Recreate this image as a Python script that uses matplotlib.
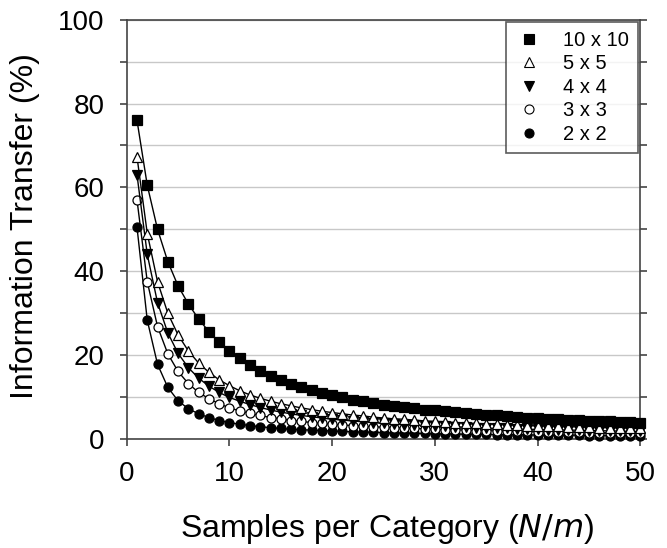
#Information transfer versus samples per category, one curve per table size

#importing all libraries which will be used.
import numpy as np
import matplotlib.pyplot as plt
from matplotlib.lines import Line2D

plt.rcParams['font.family'] = ['Liberation Sans', 'DejaVu Sans']

#samples per category (N/m)
samples = list(range(1, 51))

#values, in percent
it_10x10 = [76.0, 60.5, 50.0, 42.3, 36.5, 32.2, 28.6, 25.6, 23.1, 21.0,
            19.2, 17.7, 16.3, 15.1, 14.1, 13.2, 12.4, 11.7, 11.0, 10.4,
            9.9, 9.4, 9.0, 8.6, 8.2, 7.9, 7.6, 7.3, 7.0, 6.8,
            6.6, 6.4, 6.2, 6.0, 5.8, 5.6, 5.5, 5.3, 5.1, 4.9,
            4.8, 4.7, 4.6, 4.5, 4.4, 4.3, 4.2, 4.1, 4.0, 3.9]
it_5x5 = [67.3, 49.0, 37.5, 30.0, 24.8, 21.0, 18.1, 15.9, 14.1, 12.7,
          11.5, 10.5, 9.7, 9.0, 8.4, 7.9, 7.4, 7.0, 6.6, 6.3,
          6.0, 5.7, 5.5, 5.2, 5.0, 4.8, 4.7, 4.5, 4.3, 4.2,
          4.1, 3.9, 3.8, 3.7, 3.6, 3.5, 3.4, 3.3, 3.2, 3.1,
          3.1, 3.0, 2.9, 2.9, 2.8, 2.7, 2.7, 2.6, 2.6, 2.5]
it_4x4 = [63.0, 44.0, 32.5, 25.3, 20.4, 17.0, 14.5, 12.6, 11.1, 9.9,
          9.0, 8.2, 7.5, 6.9, 6.4, 6.0, 5.6, 5.3, 5.0, 4.7,
          4.5, 4.3, 4.1, 3.9, 3.7, 3.6, 3.4, 3.3, 3.2, 3.1,
          3.0, 2.9, 2.8, 2.7, 2.6, 2.5, 2.5, 2.4, 2.3, 2.3,
          2.2, 2.2, 2.1, 2.1, 2.0, 2.0, 1.9, 1.9, 1.8, 1.8]
it_3x3 = [57.0, 37.5, 26.8, 20.3, 16.1, 13.2, 11.1, 9.6, 8.4, 7.4,
          6.7, 6.1, 5.6, 5.1, 4.8, 4.4, 4.2, 3.9, 3.7, 3.5,
          3.3, 3.2, 3.0, 2.9, 2.8, 2.7, 2.6, 2.5, 2.4, 2.3,
          2.2, 2.2, 2.1, 2.0, 2.0, 1.9, 1.9, 1.8, 1.8, 1.7,
          1.7, 1.6, 1.6, 1.6, 1.5, 1.5, 1.5, 1.4, 1.4, 1.4]
it_2x2 = [50.5, 28.3, 17.8, 12.3, 9.1, 7.2, 6.0, 5.1, 4.4, 3.9,
          3.5, 3.2, 2.9, 2.7, 2.5, 2.3, 2.2, 2.1, 2.0, 1.9,
          1.8, 1.7, 1.6, 1.6, 1.5, 1.4, 1.4, 1.3, 1.3, 1.2,
          1.2, 1.2, 1.1, 1.1, 1.1, 1.0, 1.0, 1.0, 1.0, 0.9,
          0.9, 0.9, 0.9, 0.9, 0.8, 0.8, 0.8, 0.8, 0.8, 0.7]

labels = ["10 x 10", "5 x 5", "4 x 4", "3 x 3", "2 x 2"]
series = [it_10x10, it_5x5, it_4x4, it_3x3, it_2x2]
markers = ['s', '^', 'v', 'o', 'o']
faces = ['black', 'white', 'black', 'white', 'black']

fig = plt.figure(figsize=(6.67, 5.48), dpi=100)
ax = fig.add_axes([0.19, 0.199, 0.77, 0.765])

#draw from the lowest curve up so the upper ones sit on top
for vals, mk, fc in reversed(list(zip(series, markers, faces))):
    ax.plot(samples, vals, color='black', linewidth=1, marker=mk,
            markersize=6.5, markerfacecolor=fc, markeredgecolor='black',
            markeredgewidth=0.9, clip_on=False, zorder=3)

ax.set_xlim(0, 50)
ax.set_ylim(0, 100)
ax.set_xticks([0, 10, 20, 30, 40, 50])
ax.set_yticks([0, 20, 40, 60, 80, 100])
ax.set_yticks([10, 30, 50, 70, 90], minor=True)
ax.yaxis.grid(True, which='both', color='#c8c8c8', linewidth=1)
ax.set_axisbelow(True)

for side in ['left', 'bottom', 'top', 'right']:
    ax.spines[side].set_color('#444444')
    ax.spines[side].set_linewidth(1.2)

ax.tick_params(axis='both', which='major', direction='out', length=5,
               width=1.2, color='#444444', labelsize=20, pad=11)
ax.tick_params(axis='y', which='minor', direction='out', length=5,
               width=1.2, color='#444444')
ax.tick_params(axis='y', which='both', right=True, labelright=False)

ax.set_xlabel("Samples per Category ($\\it{N/m}$)", fontsize=23)
ax.set_ylabel("Information Transfer (%)", fontsize=23)
ax.xaxis.set_label_coords(0.507, -0.175)
ax.yaxis.set_label_coords(-0.168, 0.507)

handles = [Line2D([], [], linestyle='none', marker=mk, markersize=6.5,
                  markerfacecolor=fc, markeredgecolor='black', markeredgewidth=0.8)
           for mk, fc in zip(markers, faces)]
leg = ax.legend(handles, labels, loc='upper right', fontsize=14.5,
                frameon=True, fancybox=False, borderaxespad=0,
                handlelength=1.4, handletextpad=1.0,
                labelspacing=0.22, borderpad=0.45,
                bbox_to_anchor=(0.996, 0.995))
leg.get_frame().set_edgecolor('#333333')
leg.get_frame().set_linewidth(1.2)

fig.savefig("out.png", dpi=100)
